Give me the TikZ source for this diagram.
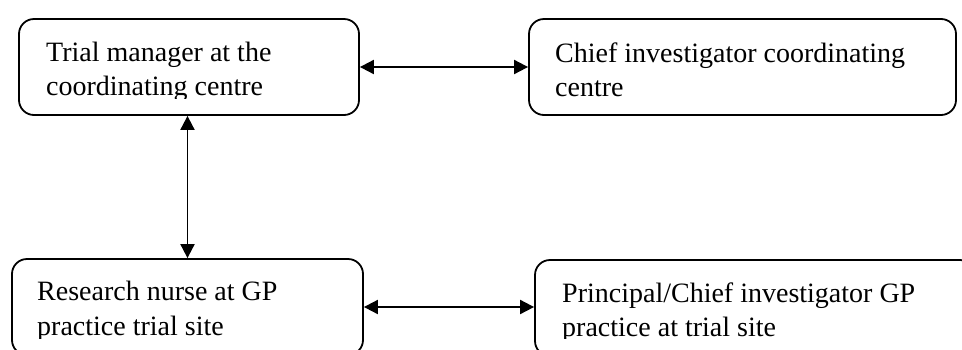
\documentclass[tikz,border=0pt]{standalone}
\usepackage{fontspec}
\setmainfont{Liberation Serif}
\usetikzlibrary{arrows.meta}
\begin{document}
\begin{tikzpicture}[x=1pt,y=-1pt,
  box/.style={draw=black, line width=1.8pt, rounded corners=15pt, minimum width=#1, minimum height=96pt, inner sep=0pt},
  txt/.style={anchor=base west, inner sep=0pt, font=\fontsize{28}{34}\selectfont},
  link/.style={line width=1.9pt, {Triangle[length=14pt,width=14pt]}-{Triangle[length=14pt,width=14pt]}}]
\clip (0,0) rectangle (962,349);
\fill[white] (0,0) rectangle (962,349);
% boxes
\node[box=340pt] (b1) at (189,67) {};
\node[box=427pt] (b2) at (742.5,67) {};
\node[box=351pt] (b3) at (187.5,307) {};
\node[box=440pt] (b4) at (755,308) {};
% texts (clipped as in the original text boxes)
\begin{scope}
\clip (0,0) rectangle (962,98);
\node[txt] (t1a) at (46,61) {Trial manager at the};
\node[txt] (t1b) at (46,95) {coordinating centre};
\node[txt] (t2a) at (555,62) {Chief investigator coordinating};
\node[txt] (t2b) at (555,96) {centre};
\end{scope}
\begin{scope}
\clip (0,200) rectangle (962,338);
\node[txt] (t3a) at (37,300) {Research nurse at GP};
\node[txt] (t3b) at (37,335) {practice trial site};
\node[txt] (t4a) at (562,302) {Principal/Chief investigator GP};
\node[txt] (t4b) at (562,336) {practice at trial site};
\end{scope}
% connectors
\draw[link] (b1.east) -- (b2.west);
\draw[link] (b1.south -| b3.north) -- (b3.north);
\draw[link] (b3.east) -- (b3.east -| b4.west);
\end{tikzpicture}
\end{document}
